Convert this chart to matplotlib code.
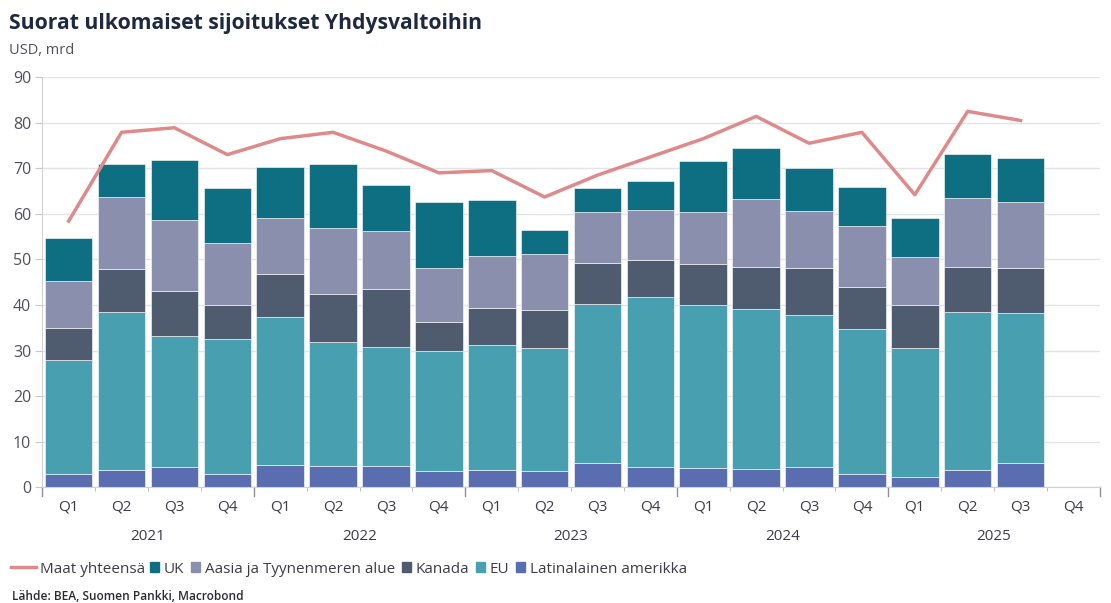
import matplotlib.pyplot as plt
from matplotlib.lines import Line2D
from matplotlib.patches import Patch
import matplotlib.transforms as mtransforms

# data (USD mrd), 2021Q1 .. 2025Q3
quarters = ['Q1', 'Q2', 'Q3', 'Q4'] * 5
years = ['2021', '2022', '2023', '2024', '2025']

latin = [2.9, 3.8, 4.5, 2.9, 4.9, 4.6, 4.6, 3.6, 3.8, 3.6,
         5.4, 4.5, 4.3, 3.9, 4.5, 2.9, 2.2, 3.7, 5.3]
eu = [25.0, 34.6, 28.7, 29.7, 32.5, 27.3, 26.2, 26.3, 27.4, 26.9,
      34.8, 37.2, 35.7, 35.2, 33.4, 31.8, 28.4, 34.8, 33.0]
kanada = [7.0, 9.5, 9.8, 7.3, 9.5, 10.5, 12.8, 6.3, 8.2, 8.3,
          9.0, 8.1, 8.9, 9.3, 10.2, 9.3, 9.4, 9.9, 9.8]
aasia = [10.4, 15.8, 15.7, 13.6, 12.3, 14.6, 12.6, 12.0, 11.3, 12.5,
         11.1, 11.0, 11.4, 14.9, 12.5, 13.3, 10.5, 15.1, 14.6]
uk = [9.3, 7.2, 13.2, 12.2, 11.1, 14.0, 10.1, 14.5, 12.3, 5.2,
      5.4, 6.5, 11.4, 11.2, 9.5, 8.5, 8.5, 9.7, 9.5]
maat_yht = [58.4, 77.9, 78.9, 73.0, 76.5, 77.9, 73.8, 69.0, 69.5, 63.7,
            68.5, 72.5, 76.5, 81.4, 75.5, 77.9, 64.2, 82.5, 80.5]

series = [
    ('Latinalainen amerikka', latin, '#5a6db0'),
    ('EU', eu, '#489fb0'),
    ('Kanada', kanada, '#4f5b6e'),
    ('Aasia ja Tyynenmeren alue', aasia, '#8a8fad'),
    ('UK', uk, '#0e6f82'),
]
line_color = '#df8a8a'

plt.rcParams['font.family'] = ['Open Sans', 'DejaVu Sans']

fig = plt.figure(figsize=(11.11, 6.03), dpi=100)
ax = fig.add_axes([0.038, 0.192, 0.952, 0.680])

x = list(range(len(latin)))
bottom = [0.0] * len(x)
for name, vals, col in series:
    ax.bar(x, vals, bottom=bottom, width=0.9, color=col, edgecolor='white',
           linewidth=0.4, zorder=2)
    bottom = [b + v for b, v in zip(bottom, vals)]

ax.plot(x, maat_yht, color=line_color, linewidth=2.5, zorder=3)

ax.set_xlim(-0.5, 19.5)
ax.set_ylim(0, 90)
ax.set_yticks(range(0, 91, 10))
ax.grid(axis='y', color='#e4e4e8', linewidth=1, zorder=0)
ax.set_axisbelow(True)

for s in ['top', 'right']:
    ax.spines[s].set_visible(False)
ax.spines['left'].set_color('#d0d0d6')
ax.spines['bottom'].set_color('#d0d0d6')

ax.tick_params(axis='y', length=5, color='#c8c8cc', labelsize=11.5,
               labelcolor='#50505a', pad=3)
ax.set_xticks(range(20))
ax.set_xticklabels(quarters, fontsize=11, color='#3c3c46')
ax.tick_params(axis='x', which='major', length=0, pad=9)
ax.set_xticks([i + 0.5 for i in range(-1, 20)], minor=True)
ax.tick_params(axis='x', which='minor', length=3, color='#b0b0b6')

# year separators and labels
trans = mtransforms.blended_transform_factory(ax.transData, ax.transAxes)
for k in range(6):
    ax.plot([k * 4 - 0.5] * 2, [0, -0.022], transform=trans, color='#909096',
            linewidth=1, clip_on=False)
for k, yr in enumerate(years):
    ax.text(k * 4 + 1.5, -0.12, yr, transform=trans, ha='center', va='center',
            fontsize=11, color='#3c3c46')

# title and unit
fig.text(0.008, 0.961, 'Suorat ulkomaiset sijoitukset Yhdysvaltoihin',
         fontsize=15.2, fontweight='bold', color='#1e2840', va='center')
fig.text(0.008, 0.916, 'USD, mrd', fontsize=10.5, color='#50505a', va='center')

# legend: line entry first, then the bar entries right after it
leg1 = fig.legend([Line2D([0], [0], color=line_color, linewidth=2.5)],
                  ['Maat yhteensä'], loc='center left',
                  bbox_to_anchor=(0.010, 0.056), frameon=False, fontsize=11,
                  handlelength=1.6, handletextpad=0.3, borderaxespad=0,
                  borderpad=0, labelcolor='#3c3c46')
fig.canvas.draw()
x1 = leg1.get_window_extent().transformed(fig.transFigure.inverted()).x1
handles = [Patch(color=c) for _, _, c in reversed(series)]
labels = [n for n, _, _ in reversed(series)]
fig.legend(handles, labels, loc='center left', bbox_to_anchor=(x1 + 0.004, 0.056),
           ncol=5, frameon=False, fontsize=11, handlelength=0.6,
           handleheight=0.6, handletextpad=0.3, columnspacing=0.45,
           borderaxespad=0, borderpad=0, labelcolor='#3c3c46')

fig.text(0.011, 0.01, 'Lähde: BEA, Suomen Pankki, Macrobond', fontsize=8.6,
         fontweight='semibold', color='#2a2a34', va='center')

fig.savefig('out.png', dpi=100)
